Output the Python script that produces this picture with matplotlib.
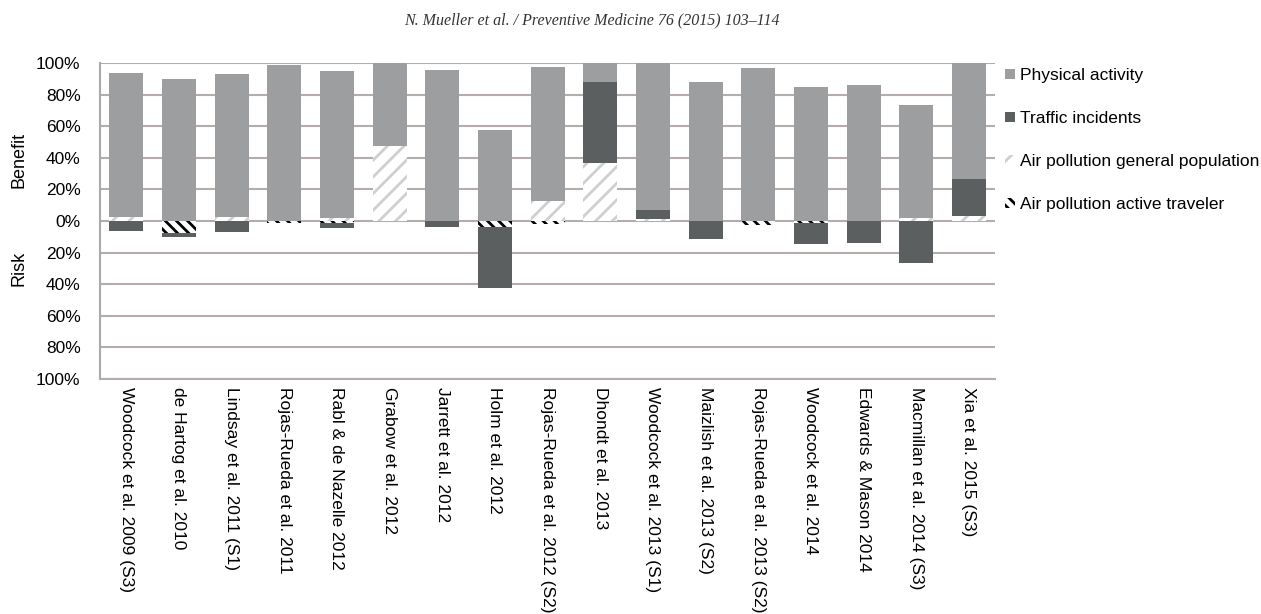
import matplotlib
matplotlib.use("Agg")
import matplotlib.pyplot as plt
import numpy as np
from matplotlib.patches import Patch

plt.rcParams['font.family'] = ['Liberation Sans', 'DejaVu Sans']
plt.rcParams['hatch.linewidth'] = 2.0

studies = ["Woodcock et al. 2009 (S3)", "de Hartog et al. 2010", "Lindsay et al. 2011 (S1)",
           "Rojas-Rueda et al. 2011", "Rabl & de Nazelle 2012", "Grabow et al. 2012",
           "Jarrett et al. 2012", "Holm et al. 2012", "Rojas-Rueda et al. 2012 (S2)",
           "Dhondt et al. 2013", "Woodcock et al. 2013 (S1)", "Maizlish et al. 2013 (S2)",
           "Rojas-Rueda et al. 2013 (S2)", "Woodcock et al. 2014", "Edwards & Mason 2014",
           "Macmillan et al. 2014 (S3)", "Xia et al. 2015 (S3)"]

# benefit side (%)
air_general = [2.5, 0, 2.5, 0, 2, 47.6, 0, 0, 12.7, 37, 1.5, 0, 0, 0, 0, 2, 3.2]
traffic_benefit = [0, 0, 0, 0, 0, 0, 0, 0, 0, 51.4, 5.3, 0, 0, 0, 0, 0, 23.6]
physical_activity = [91.5, 89.9, 90.9, 98.9, 93.1, 52.4, 95.8, 57.5, 85.2, 11.6, 93.2, 88.4, 97.0, 85.2, 86.5, 71.4, 73.2]
# risk side (%)
air_active = [0, 7.4, 0, 1.0, 1.5, 0, 0, 3.8, 2.0, 0, 0, 0, 2.5, 1.0, 0, 0, 0]
traffic_risk = [6.0, 2.7, 7.0, 0, 3.0, 0, 3.8, 38.9, 0, 0, 0, 11.6, 0, 13.4, 13.7, 26.4, 0]

c_pa = '#9c9e9f'
c_tr = '#5c5f60'
FS = 12.5

fig = plt.figure(figsize=(12.61, 6.14), dpi=100)
ax = fig.add_axes([0.0793, 0.383, 0.7100, 0.514])

x = np.arange(len(studies))
w = 0.65
ag = np.array(air_general)
tb = np.array(traffic_benefit)
pa = np.array(physical_activity)
aa = np.array(air_active)
tr = np.array(traffic_risk)

ax.bar(x, ag, w, color='white', edgecolor='#cfcfcf', hatch='//', linewidth=0, zorder=3)
ax.bar(x, tb, w, bottom=ag, color=c_tr, linewidth=0, zorder=3)
ax.bar(x, pa, w, bottom=ag + tb, color=c_pa, linewidth=0, zorder=3)
ax.bar(x, -aa, w, color='white', edgecolor='black', hatch='\\\\\\', linewidth=0, zorder=3)
ax.bar(x, -tr, w, bottom=-aa, color=c_tr, linewidth=0, zorder=3)

ax.set_xlim(-0.5, len(studies) - 0.5)
ax.set_ylim(-100, 100)
yt = np.arange(-100, 101, 20)
ax.set_yticks(yt)
ax.set_yticklabels([f"{abs(v)}%" for v in yt], fontsize=FS)
ax.yaxis.grid(True, color='#b5adab', linewidth=1.5, zorder=0)
ax.set_axisbelow(True)
ax.tick_params(axis='y', length=0, pad=14)
ax.tick_params(axis='x', length=0, pad=6)
ax.set_xticks(x)
ax.set_xticklabels(studies, rotation=-90, fontsize=FS, va='top', ha='center')
for s in ['top', 'right']:
    ax.spines[s].set_visible(False)
ax.spines['left'].set_color('#a9a9a9')
ax.spines['left'].set_linewidth(1.5)
ax.spines['bottom'].set_color('#b5adab')
ax.spines['bottom'].set_linewidth(1.5)

fig.text(19 / 1261, 1 - 160 / 614, "Benefit", rotation=90, fontsize=13, ha='center', va='center')
fig.text(19 / 1261, 1 - 268 / 614, "Risk", rotation=90, fontsize=13, ha='center', va='center')

fig.text(0.469, 1 - 20 / 614, "N. Mueller et al. / Preventive Medicine 76 (2015) 103–114",
         family=['Liberation Serif', 'DejaVu Serif'], style='italic', fontsize=11.5,
         ha='center', va='center', color='#333333')

handles = [Patch(facecolor=c_pa, linewidth=0),
           Patch(facecolor=c_tr, linewidth=0),
           Patch(facecolor='white', edgecolor='#cfcfcf', hatch='//', linewidth=0),
           Patch(facecolor='white', edgecolor='black', hatch='\\\\\\', linewidth=0)]
labels = ["Physical activity", "Traffic incidents", "Air pollution general population",
          "Air pollution active traveler"]
fig.legend(handles, labels, loc='upper left', bbox_to_anchor=(1005 / 1261, 1 - 68 / 614), frameon=False,
           fontsize=FS, handlelength=0.55, handleheight=0.55, handletextpad=0.3,
           labelspacing=1.62, borderaxespad=0, borderpad=0)

fig.savefig("out.png", dpi=100, facecolor='white')
